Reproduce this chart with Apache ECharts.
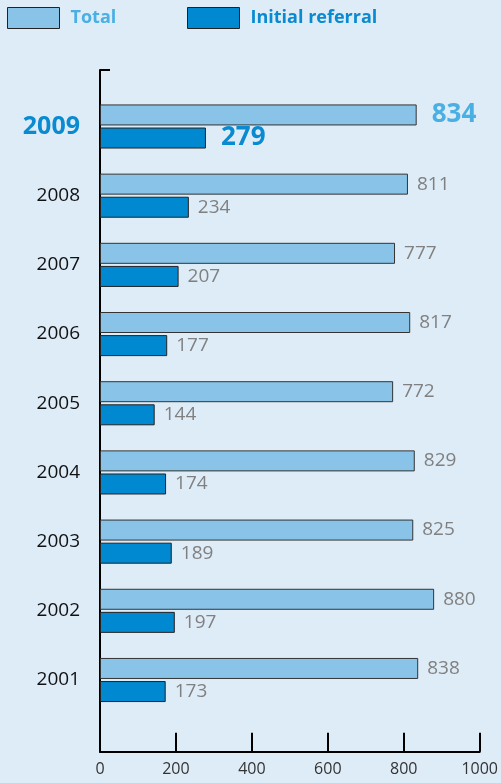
<!DOCTYPE html>
<html><head><meta charset="utf-8">
<script src="https://cdn.jsdelivr.net/npm/echarts@6/dist/echarts.min.js"></script>
<style>html,body{margin:0;padding:0;background:#deecf7;}#c{width:501px;height:783px;}</style>
</head><body><div id="c"></div>
<script>
const years = ['2001','2002','2003','2004','2005','2006','2007','2008','2009'];
const total = [838,880,825,829,772,817,777,811,834];
const initial = [173,197,189,174,144,177,207,234,279];
const xMin = 0, xMax = 1000, xStep = 200;

const FONT = 'Open Sans';
const C_TOTAL = '#89c4e8', C_INIT = '#0089d0';
const T_TOTAL = '#4aafe3', T_INIT = '#0a8ad0';

function mk(values, hiColor) {
  return values.map((v, i) => {
    const last = i === values.length - 1;
    return {
      value: v,
      label: last ? {fontSize: 26, fontWeight: 'bold', color: hiColor, distance: 15} : {}
    };
  });
}

const chart = echarts.init(document.getElementById('c'), null, {renderer: 'canvas'});
chart.setOption({
  backgroundColor: '#deecf7',
  animation: false,
  textStyle: {fontFamily: FONT},
  legend: [
    {left: 7, top: 7, itemWidth: 52, itemHeight: 21, padding: 0, icon: 'rect',
     itemStyle: {borderColor: '#222', borderWidth: 1},
     textStyle: {fontSize: 18, fontWeight: 'bold', fontFamily: FONT, padding: [0,0,0,6]},
     data: [{name: 'Total', textStyle: {color: T_TOTAL}}]},
    {left: 187, top: 7, itemWidth: 52, itemHeight: 21, padding: 0, icon: 'rect',
     itemStyle: {borderColor: '#222', borderWidth: 1},
     textStyle: {fontSize: 18, fontWeight: 'bold', fontFamily: FONT, padding: [0,0,0,6]},
     data: [{name: 'Initial referral', textStyle: {color: T_INIT}}]}
  ],
  grid: [
    {left: 100, right: 21, top: 91.9, height: 622.7, containLabel: false},
    {left: 100, right: 21, top: 70, bottom: 31.3, containLabel: false}
  ],
  xAxis: [
    {gridIndex: 0, type: 'value', min: xMin, max: xMax, interval: xStep, offset: 37.1,
     axisLine: {show: true, lineStyle: {color: '#000', width: 2}},
     axisTick: {show: true, inside: true, length: 19, lineStyle: {color: '#000', width: 2}},
     axisLabel: {fontSize: 16, color: '#333', margin: 10, fontFamily: FONT,
       formatter: function (v) { return String(v); }},
     splitLine: {show: false}},
    {gridIndex: 1, type: 'value', min: 0, max: 1, show: false}
  ],
  yAxis: [
    {gridIndex: 0, type: 'category', data: years, boundaryGap: true,
     axisLine: {show: false}, axisTick: {show: false},
     axisLabel: {margin: 20, fontFamily: FONT,
       formatter: function (v) { return v === '2009' ? '{hi|' + v + '}' : '{n|' + v + '}'; },
       rich: {
         n: {fontSize: 19, color: '#111', fontFamily: FONT},
         hi: {fontSize: 25, fontWeight: 'bold', color: T_INIT, fontFamily: FONT}
       }}},
    {gridIndex: 1, type: 'value', min: 0, max: 1, interval: 1,
     axisLine: {show: true, onZero: false, lineStyle: {color: '#000', width: 2}},
     axisTick: {show: true, inside: true, length: 10, lineStyle: {color: '#000', width: 2}},
     axisLabel: {show: false}, splitLine: {show: false}}
  ],
  series: [
    {name: 'Total', type: 'bar', xAxisIndex: 0, yAxisIndex: 0,
     data: mk(total, T_TOTAL), barWidth: 21, barGap: '10%',
     itemStyle: {color: C_TOTAL, borderColor: '#333', borderWidth: 1},
     label: {show: true, position: 'right', distance: 9, fontSize: 19, color: '#808080', fontFamily: FONT}},
    {name: 'Initial referral', type: 'bar', xAxisIndex: 0, yAxisIndex: 0,
     data: mk(initial, T_INIT), barWidth: 21, barGap: '10%',
     itemStyle: {color: C_INIT, borderColor: '#222', borderWidth: 1},
     label: {show: true, position: 'right', distance: 9, fontSize: 19, color: '#808080', fontFamily: FONT}}
  ]
});
</script></body></html>
